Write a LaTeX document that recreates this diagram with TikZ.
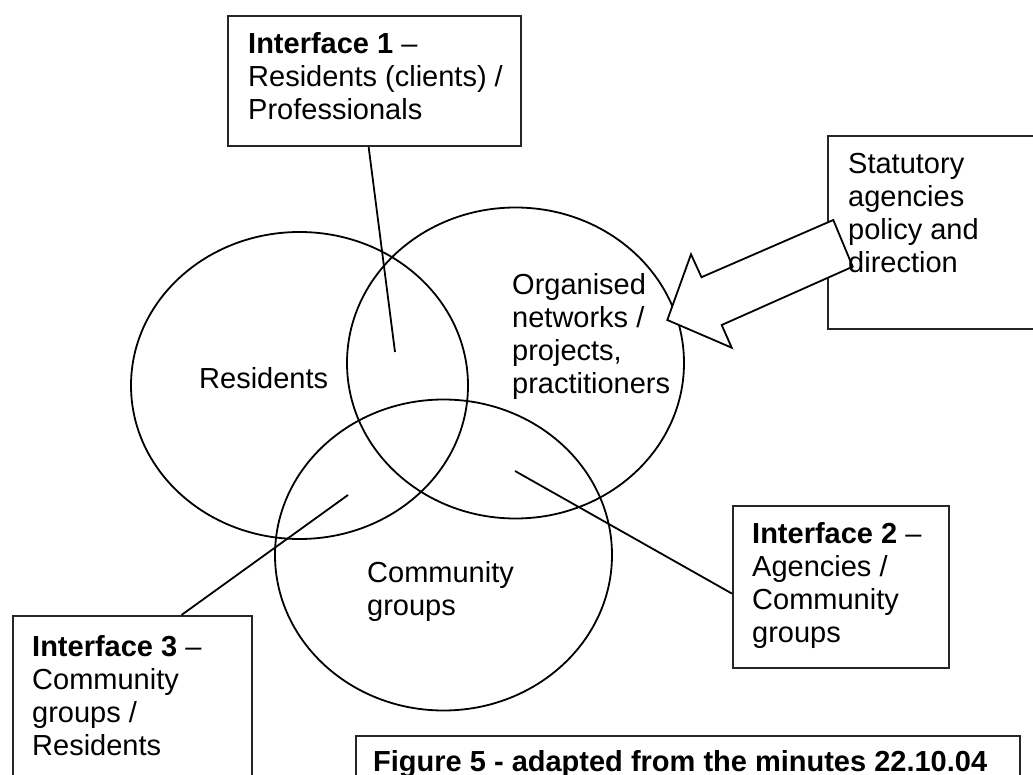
\documentclass[tikz,border=0pt]{standalone}
\usepackage{fontspec}
\setmainfont{Liberation Sans}
\usetikzlibrary{shapes.geometric,calc}
\begin{document}
\begin{tikzpicture}[x=1pt,y=-1pt,
  lbl/.style={anchor=north west, inner sep=0pt, align=left, font=\fontsize{29}{33}\selectfont},
  boxframe/.style={draw=black!85, line width=2.1pt, fill=white, inner sep=0pt, anchor=north west},
  ring/.style={draw, ellipse, line width=1.8pt, inner sep=0pt, minimum width=337pt, minimum height=311pt},
  lead/.style={line width=1.8pt},
  bigarrow/.style={draw, line width=1.8pt, fill=white, line join=miter}]
\useasboundingbox (0,0) rectangle (1033,775);
\clip (0,0) rectangle (1033,775);

% the three overlapping sets
\node[ring, minimum height=307pt] (res) at (299.5,385.5) {};
\node[ring] (org) at (515.5,363) {};
\node[ring] (com) at (443.5,555) {};

% set labels
\node[lbl] (reslbl) at (199,367) {Residents};
\node[lbl] (orglbl) at (512,273) {Organised\\networks /\\projects,\\practitioners};
\node[lbl] (comlbl) at (367,561) {Community\\groups};

% interface boxes
\node[boxframe, minimum width=293pt, minimum height=130pt] (i1) at (227,15) {};
\node[lbl] (i1txt) at (248,32) {\textbf{Interface 1} –\\Residents (clients) /\\Professionals};

\node[boxframe, minimum width=216pt, minimum height=162pt] (i2) at (732,505) {};
\node[lbl] (i2txt) at (752,522) {\textbf{Interface 2} –\\Agencies /\\Community\\groups};

\node[boxframe, minimum width=239pt, minimum height=200pt] (i3) at (12,615) {};
\node[lbl] (i3txt) at (32,635) {\textbf{Interface 3} –\\Community\\groups /\\Residents};

% leader lines into the overlaps
\coordinate (p1) at (395,352);
\coordinate (p2) at (515,471);
\coordinate (p3) at (348,495);
\draw[lead] ($(i1.south west)!0.48!(i1.south east)$) -- (p1);
\draw[lead] (p2) -- ($(i2.north west)!0.54!(i2.south west)$);
\draw[lead] (p3) -- ($(i3.north west)!0.703!(i3.north east)$);

% statutory agencies box with its block arrow
\node[boxframe, minimum width=230pt, minimum height=193pt] (stat) at (827,135) {};
\draw[bigarrow] (833.3,220) -- (701.5,277.2) -- (691,254.3) -- (667.3,320)
  -- (731.7,347.7) -- (721.7,325) -- (852.7,266.7) -- cycle;
\node[lbl] (stattxt) at (848,153) {Statutory\\agencies\\policy and\\direction};

% caption
\node[boxframe, minimum width=664pt, minimum height=60pt] (cap) at (355,735) {};
\node[lbl, font=\fontsize{29}{33}\selectfont\bfseries] (captxt) at (373,750) {Figure 5 - adapted from the minutes 22.10.04};
\end{tikzpicture}
\end{document}
